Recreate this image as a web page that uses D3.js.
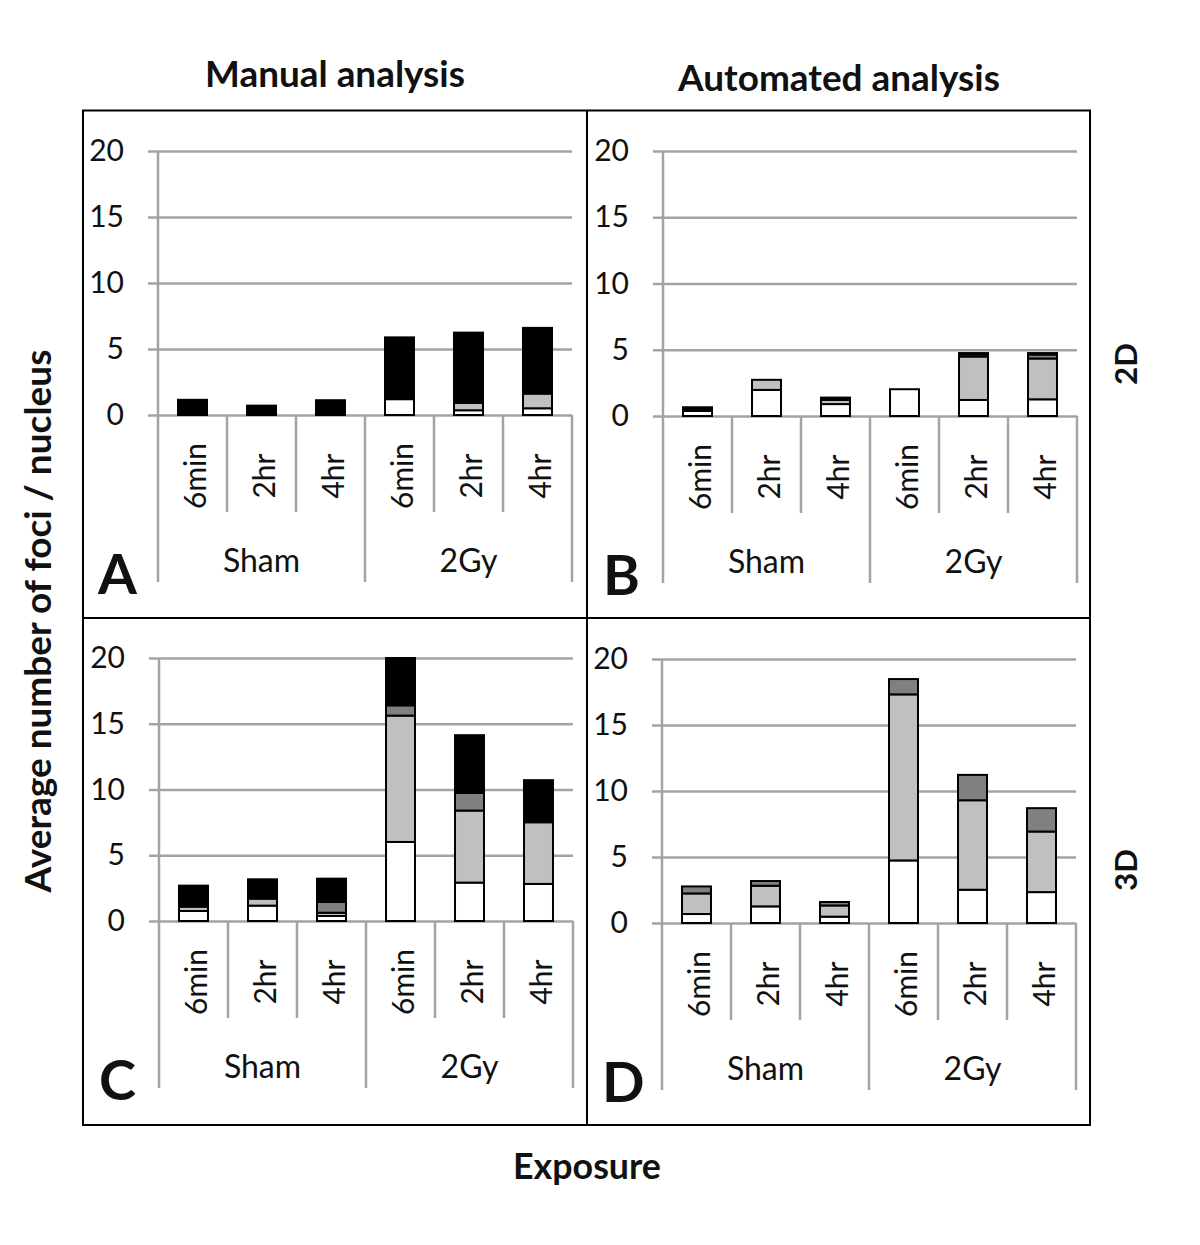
<!DOCTYPE html>
<html><head><meta charset="utf-8">
<script src="https://cdn.jsdelivr.net/npm/d3@7"></script>
<style>
html,body{margin:0;padding:0;background:#fff;}
svg{display:block;}
text{font-family:Lato,"Open Sans",sans-serif;fill:#111;}
</style></head>
<body>
<script>
// ---- data ----
const categories = ["6min","2hr","4hr","6min","2hr","4hr"];
const groups = ["Sham","2Gy"];
const yTicks = [0,5,10,15,20];
const seriesNames = ["Class 1","Class 2","Class 3","Class 4"];
const seriesColors = ["#ffffff","#c0c0c0","#808080","#000000"];

// Panel A: Manual 2D
const A_s1 = [0, 0, 0, 1.20, 0.36, 0.51];
const A_s2 = [0, 0, 0, 0, 0.55, 1.11];
const A_s3 = [0, 0, 0, 0, 0, 0];
const A_s4 = [1.15, 0.71, 1.12, 4.68, 5.33, 4.98];
// Panel B: Automated 2D
const B_s1 = [0.38, 1.97, 0.90, 2.02, 1.21, 1.26];
const B_s2 = [0, 0.76, 0.31, 0, 3.28, 3.08];
const B_s3 = [0, 0, 0.10, 0, 0.16, 0.30];
const B_s4 = [0.28, 0, 0.08, 0, 0.10, 0.11];
// Panel C: Manual 3D
const C_s1 = [0.76, 1.17, 0.38, 6.01, 2.92, 2.82];
const C_s2 = [0.33, 0.53, 0.25, 9.61, 5.48, 4.69];
const C_s3 = [0, 0, 0.82, 0.78, 1.34, 0];
const C_s4 = [1.60, 1.47, 1.77, 3.60, 4.39, 3.20];
// Panel D: Automated 3D
const D_s1 = [0.68, 1.26, 0.48, 4.74, 2.52, 2.34];
const D_s2 = [1.56, 1.56, 0.85, 12.58, 6.78, 4.59];
const D_s3 = [0.53, 0.36, 0.26, 1.16, 1.92, 1.77];
const D_s4 = [0, 0, 0, 0, 0, 0];

const panels = [
  {letter:"A", series:[A_s1,A_s2,A_s3,A_s4], x0:158, x1:572, yTop:151, yBot:415},
  {letter:"B", series:[B_s1,B_s2,B_s3,B_s4], x0:663, x1:1077, yTop:151, yBot:416},
  {letter:"C", series:[C_s1,C_s2,C_s3,C_s4], x0:159, x1:573, yTop:658, yBot:921},
  {letter:"D", series:[D_s1,D_s2,D_s3,D_s4], x0:662, x1:1076, yTop:659, yBot:923}
];

const W = 1200, H = 1245;
const svg = d3.select("body").append("svg").attr("width", W).attr("height", H);
const gridColor = "#a3a3a3";

// frame
const frame = svg.append("g").attr("fill","none").attr("stroke","#000").attr("stroke-width",2);
frame.append("rect").attr("x",83).attr("y",110.5).attr("width",1007).attr("height",1014.5);
frame.append("line").attr("x1",587).attr("x2",587).attr("y1",110.5).attr("y2",1125);
frame.append("line").attr("x1",83).attr("x2",1090).attr("y1",618).attr("y2",618);

panels.forEach(p => {
  const g = svg.append("g");
  const y = d3.scaleLinear().domain([0,20]).range([p.yBot, p.yTop]);
  const x = d3.scaleBand().domain(d3.range(categories.length)).range([p.x0, p.x1]).paddingInner(0).paddingOuter(0);
  const bw = x.bandwidth();

  // y axis with gridlines
  const yAxis = d3.axisLeft(y).tickValues(yTicks).tickSizeInner(-(p.x1 - p.x0 + 10)).tickSizeOuter(0).tickPadding(24);
  const ya = g.append("g").attr("transform", `translate(${p.x0-10},0)`).call(yAxis);
  ya.select(".domain").remove();
  ya.selectAll(".tick line").attr("stroke", gridColor).attr("stroke-width", 2.5);
  ya.selectAll(".tick text").attr("font-size", 30).attr("fill","#111").attr("font-family","Lato, sans-serif");

  // vertical axis line
  g.append("line").attr("x1",p.x0).attr("x2",p.x0).attr("y1",y(20)).attr("y2",p.yBot+167)
    .attr("stroke",gridColor).attr("stroke-width",2.5);

  // category tick marks
  d3.range(1, categories.length+1).forEach(i => {
    const xx = i < categories.length ? x(i) : p.x1;
    const long = (i % 3 === 0);
    g.append("line").attr("x1",xx).attr("x2",xx).attr("y1",p.yBot).attr("y2",p.yBot + (long?167:97))
      .attr("stroke",gridColor).attr("stroke-width",2.5);
  });

  // bars
  const stacked = d3.stack().keys(d3.range(4))(d3.range(categories.length).map(i => {
    const o = {}; p.series.forEach((s,k)=>o[k]=s[i]); return o;
  }));
  const barW = bw*0.42;
  stacked.forEach((layer, k) => {
    g.append("g").selectAll("rect").data(layer.map((d,i)=>({d,i})).filter(e=>e.d[1]-e.d[0]>0))
      .join("rect")
      .attr("x", e => x(e.i) + (bw-barW)/2)
      .attr("y", e => y(e.d[1]))
      .attr("width", barW)
      .attr("height", e => y(e.d[0]) - y(e.d[1]))
      .attr("fill", seriesColors[k])
      .attr("stroke","#000").attr("stroke-width",2);
  });

  // category labels
  categories.forEach((c,i) => {
    const cx = x(i) + bw/2;
    const cy = p.yBot + 61;
    g.append("text").attr("transform",`translate(${cx+13},${cy}) rotate(-90)`)
      .attr("text-anchor","middle").attr("font-size",30).text(c);
  });
  // group labels
  groups.forEach((gr,j) => {
    const cx = x(j*3) + bw*1.5;
    g.append("text").attr("x",cx).attr("y",p.yBot+157).attr("text-anchor","middle")
      .attr("font-size",32).text(gr);
  });
  // panel letter
  g.append("text").attr("x", p.x0 - 60).attr("y", p.yBot + 179)
    .attr("font-family","'Liberation Sans', Arial, sans-serif").attr("font-weight","bold")
    .attr("font-size",56).text(p.letter);
});

// titles
function fit(sel, width){
  const n = sel.node(); const fs = +sel.attr("font-size");
  const w = n.getComputedTextLength(); sel.attr("font-size", fs*width/w);
}
const t1 = svg.append("text").attr("x",335).attr("y",87).attr("text-anchor","middle").attr("font-weight","bold").attr("font-size",30).text("Manual analysis");
fit(t1, 260);
const t2 = svg.append("text").attr("x",839).attr("y",91).attr("text-anchor","middle").attr("font-weight","bold").attr("font-size",30).text("Automated analysis");
fit(t2, 322);
const t3 = svg.append("text").attr("transform","translate(51,621) rotate(-90)").attr("text-anchor","middle").attr("font-weight","bold").attr("font-size",30).text("Average number of foci / nucleus");
fit(t3, 543);
const t4 = svg.append("text").attr("x",587).attr("y",1179).attr("text-anchor","middle").attr("font-weight","bold").attr("font-size",30).text("Exposure");
fit(t4, 148);
const t5 = svg.append("text").attr("transform","translate(1137,364) rotate(-90)").attr("text-anchor","middle").attr("font-weight","bold").attr("font-size",30).text("2D");
fit(t5, 42);
const t6 = svg.append("text").attr("transform","translate(1137,870) rotate(-90)").attr("text-anchor","middle").attr("font-weight","bold").attr("font-size",30).text("3D");
fit(t6, 42);
</script>
</body></html>
